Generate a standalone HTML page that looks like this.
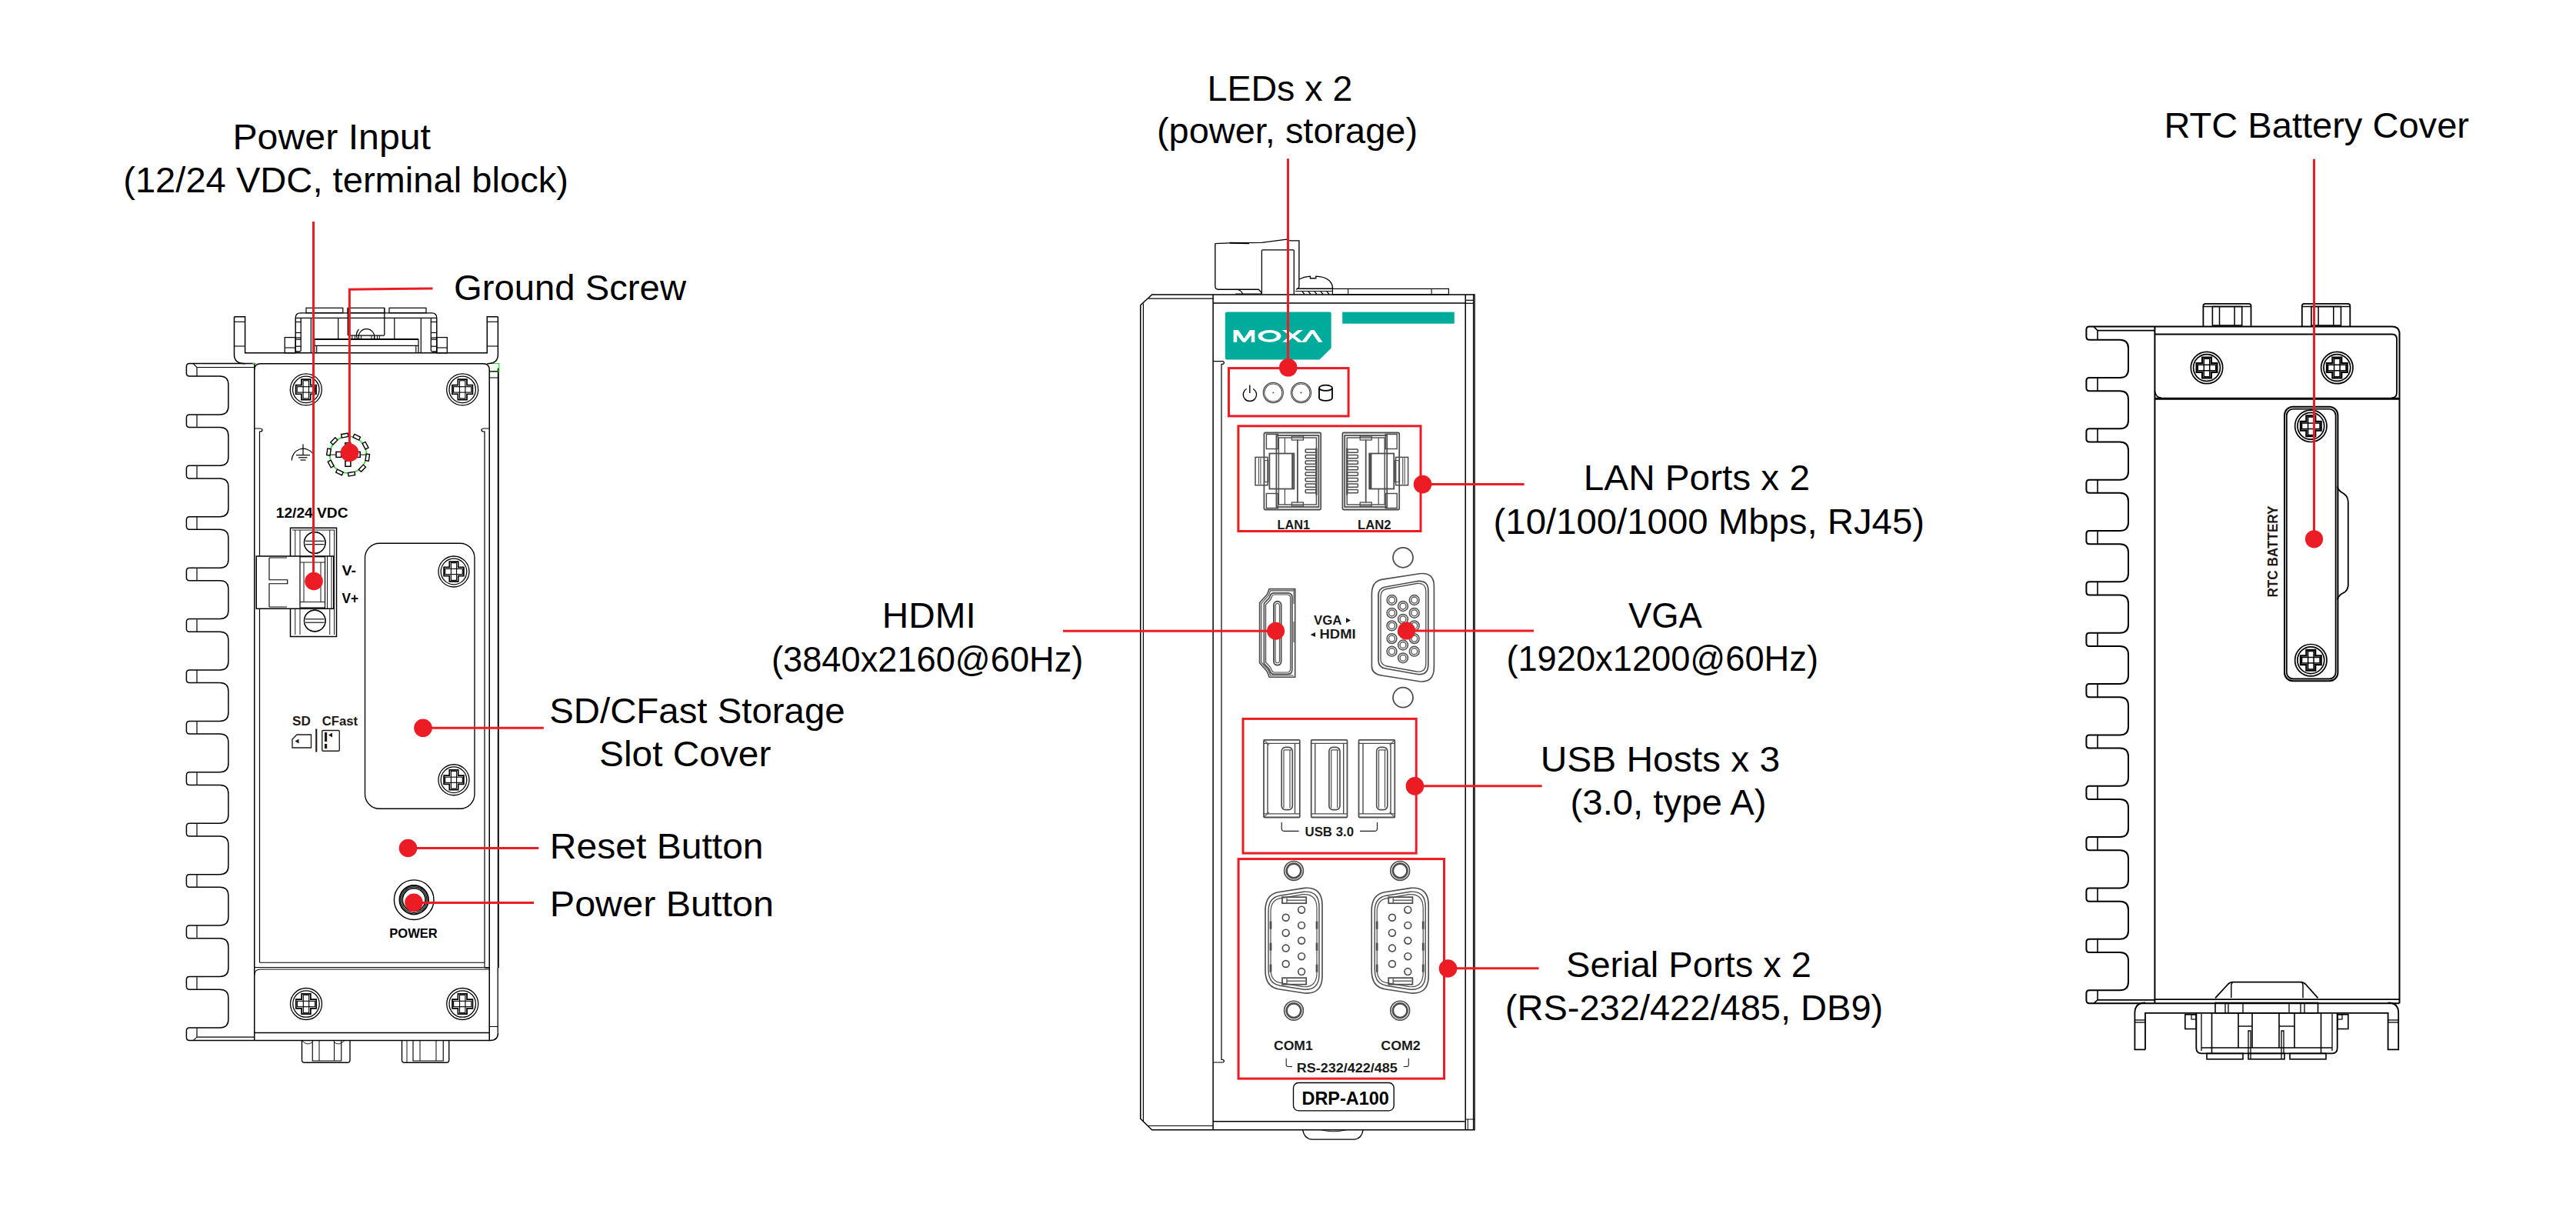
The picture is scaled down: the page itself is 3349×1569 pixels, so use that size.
<!DOCTYPE html>
<html><head><meta charset="utf-8"><title>DRP-A100</title>
<style>
html,body{margin:0;padding:0;background:#fff;overflow:hidden;width:3349px;height:1569px;}
svg{display:block;font-family:"Liberation Sans",sans-serif;}
</style></head><body>
<svg width="3349" height="1569" viewBox="0 0 3349 1569">
<rect width="100%" height="100%" fill="#fff"/>
<path d="M330.75,472.5 H246.4 Q242.4,472.5 242.4,476.5 V485.1 Q242.4,489.1 246.4,489.1 H285.9 Q296.9,489.1 296.9,500.1 V527.92 Q296.9,538.92 285.9,538.92 H246.4 Q242.4,538.92 242.4,542.92 V551.52 Q242.4,555.52 246.4,555.52 H285.9 Q296.9,555.52 296.9,566.52 V594.34 Q296.9,605.34 285.9,605.34 H246.4 Q242.4,605.34 242.4,609.34 V617.94 Q242.4,621.94 246.4,621.94 H285.9 Q296.9,621.94 296.9,632.94 V660.76 Q296.9,671.76 285.9,671.76 H246.4 Q242.4,671.76 242.4,675.76 V684.36 Q242.4,688.36 246.4,688.36 H285.9 Q296.9,688.36 296.9,699.36 V727.18 Q296.9,738.18 285.9,738.18 H246.4 Q242.4,738.18 242.4,742.18 V750.78 Q242.4,754.78 246.4,754.78 H285.9 Q296.9,754.78 296.9,765.78 V793.6 Q296.9,804.6 285.9,804.6 H246.4 Q242.4,804.6 242.4,808.6 V817.2 Q242.4,821.2 246.4,821.2 H285.9 Q296.9,821.2 296.9,832.2 V860.02 Q296.9,871.02 285.9,871.02 H246.4 Q242.4,871.02 242.4,875.02 V883.62 Q242.4,887.62 246.4,887.62 H285.9 Q296.9,887.62 296.9,898.62 V926.44 Q296.9,937.44 285.9,937.44 H246.4 Q242.4,937.44 242.4,941.44 V950.04 Q242.4,954.04 246.4,954.04 H285.9 Q296.9,954.04 296.9,965.04 V992.86 Q296.9,1003.86 285.9,1003.86 H246.4 Q242.4,1003.86 242.4,1007.86 V1016.46 Q242.4,1020.46 246.4,1020.46 H285.9 Q296.9,1020.46 296.9,1031.46 V1059.28 Q296.9,1070.28 285.9,1070.28 H246.4 Q242.4,1070.28 242.4,1074.28 V1082.88 Q242.4,1086.88 246.4,1086.88 H285.9 Q296.9,1086.88 296.9,1097.88 V1125.7 Q296.9,1136.7 285.9,1136.7 H246.4 Q242.4,1136.7 242.4,1140.7 V1149.3 Q242.4,1153.3 246.4,1153.3 H285.9 Q296.9,1153.3 296.9,1164.3 V1192.12 Q296.9,1203.12 285.9,1203.12 H246.4 Q242.4,1203.12 242.4,1207.12 V1215.72 Q242.4,1219.72 246.4,1219.72 H285.9 Q296.9,1219.72 296.9,1230.72 V1258.54 Q296.9,1269.54 285.9,1269.54 H246.4 Q242.4,1269.54 242.4,1273.54 V1282.14 Q242.4,1286.14 246.4,1286.14 H285.9 Q296.9,1286.14 296.9,1297.14 V1324.96 Q296.9,1335.96 285.9,1335.96 H246.4 Q242.4,1335.96 242.4,1339.96 V1348.56 Q242.4,1352.56 246.4,1352.56 H330.75" fill="none" stroke="#000" stroke-width="1.5" />
<line x1="256" y1="477.5" x2="256" y2="489.1" stroke="#000" stroke-width="1.2"/>
<line x1="251" y1="472.5" x2="256" y2="477.5" stroke="#000" stroke-width="1.12"/>
<line x1="256" y1="477.5" x2="330.75" y2="477.5" stroke="#000" stroke-width="1.2"/>
<line x1="256" y1="538.92" x2="256" y2="555.52" stroke="#000" stroke-width="1.2"/>
<line x1="256" y1="605.34" x2="256" y2="621.94" stroke="#000" stroke-width="1.2"/>
<line x1="256" y1="671.76" x2="256" y2="688.36" stroke="#000" stroke-width="1.2"/>
<line x1="256" y1="738.18" x2="256" y2="754.78" stroke="#000" stroke-width="1.2"/>
<line x1="256" y1="804.6" x2="256" y2="821.2" stroke="#000" stroke-width="1.2"/>
<line x1="256" y1="871.02" x2="256" y2="887.62" stroke="#000" stroke-width="1.2"/>
<line x1="256" y1="937.44" x2="256" y2="954.04" stroke="#000" stroke-width="1.2"/>
<line x1="256" y1="1003.86" x2="256" y2="1020.46" stroke="#000" stroke-width="1.2"/>
<line x1="256" y1="1070.28" x2="256" y2="1086.88" stroke="#000" stroke-width="1.2"/>
<line x1="256" y1="1136.7" x2="256" y2="1153.3" stroke="#000" stroke-width="1.2"/>
<line x1="256" y1="1203.12" x2="256" y2="1219.72" stroke="#000" stroke-width="1.2"/>
<line x1="256" y1="1269.54" x2="256" y2="1286.14" stroke="#000" stroke-width="1.2"/>
<line x1="256" y1="1335.96" x2="256" y2="1348.06" stroke="#000" stroke-width="1.2"/>
<line x1="251" y1="1352.56" x2="256" y2="1348.06" stroke="#000" stroke-width="1.12"/>
<line x1="256" y1="1348.06" x2="330.75" y2="1348.06" stroke="#000" stroke-width="1.2"/>
<path d="M330.75,1352.5 H637.5 Q647.5,1352.5 647.5,1342.5" fill="none" stroke="#000" stroke-width="1.5" />
<line x1="330.75" y1="472.7" x2="330.75" y2="1352.5" stroke="#000" stroke-width="1.5"/>
<path d="M330.75,480.7 Q330.75,472.7 338.75,472.7 H628.25 Q636.25,472.7 636.25,480.7 V1352.5" fill="none" stroke="#000" stroke-width="1.5" />
<path d="M330.75,557 H338 Q341,557 341,559 Q341,561 338,561 H337.5 V1251.25" fill="none" stroke="#000" stroke-width="1.2" />
<path d="M636.25,557 H629 Q626,557 626,559 Q626,561 629,561 H630 V1251.25" fill="none" stroke="#000" stroke-width="1.2" />
<line x1="647.8" y1="478.5" x2="647.8" y2="1258" stroke="#000" stroke-width="1.95"/>
<line x1="647.2" y1="1258" x2="647.2" y2="1342.5" stroke="#000" stroke-width="1.27"/>
<line x1="630" y1="1251.25" x2="630" y2="1258" stroke="#000" stroke-width="1.12"/>
<line x1="630" y1="1257.8" x2="636.25" y2="1257.8" stroke="#000" stroke-width="1.65"/>
<path d="M636.3,472.5 H648.8 V482.8 H637.5" fill="none" stroke="#22dd22" stroke-width="1.2"/>
<path d="M328.5,472.5 H333" fill="none" stroke="#22dd22" stroke-width="1.2"/>
<line x1="636.25" y1="482.8" x2="647.5" y2="482.8" stroke="#000" stroke-width="1.2"/>
<line x1="636.25" y1="491" x2="647.5" y2="491" stroke="#000" stroke-width="1.05"/>
<line x1="337.5" y1="1251.25" x2="630" y2="1251.25" stroke="#000" stroke-width="1.2"/>
<line x1="330.75" y1="1257.5" x2="636.25" y2="1257.5" stroke="#000" stroke-width="1.2"/>
<path d="M330.75,1268 Q330.75,1260 338.75,1260 H636.25" fill="none" stroke="#000" stroke-width="1.2" />
<line x1="330.75" y1="1342.5" x2="636.25" y2="1342.5" stroke="#000" stroke-width="1.35"/>
<line x1="636.25" y1="1334.5" x2="647.2" y2="1334.5" stroke="#000" stroke-width="1.05"/>
<path d="M304.5,411.8 V461 Q304.5,472.7 318.6,472.7" fill="none" stroke="#000" stroke-width="1.5" />
<path d="M647.4,411.8 V461 Q647.4,472.7 633.3,472.7" fill="none" stroke="#000" stroke-width="1.5" />
<path d="M304.5,411.8 H318.6 V458.8 H633.3 V411.8 H647.4" fill="none" stroke="#000" stroke-width="1.5" />
<line x1="304.5" y1="418.3" x2="318.6" y2="418.3" stroke="#000" stroke-width="1.12"/>
<line x1="304.5" y1="450" x2="318.6" y2="450" stroke="#000" stroke-width="1.12"/>
<line x1="633.3" y1="418.3" x2="647.4" y2="418.3" stroke="#000" stroke-width="1.12"/>
<line x1="633.3" y1="450" x2="647.4" y2="450" stroke="#000" stroke-width="1.12"/>
<rect x="398" y="400.3" width="47.8" height="6.4" rx="0" fill="none" stroke="#000" stroke-width="1.2"/>
<rect x="452.2" y="400.3" width="47.5" height="6.4" rx="0" fill="none" stroke="#000" stroke-width="1.2"/>
<rect x="506" y="400.3" width="48" height="6.4" rx="0" fill="none" stroke="#000" stroke-width="1.2"/>
<path d="M384.2,458.8 V413.4 Q384.2,406.9 390.7,406.9 H561.3 Q567.8,406.9 567.8,413.4 V458.8" fill="none" stroke="#000" stroke-width="1.42" />
<line x1="384.2" y1="413.4" x2="567.8" y2="413.4" stroke="#000" stroke-width="1.35"/>
<path d="M391.2,413.4 V455.5 Q391.2,457 389.5,457 H384.2" fill="none" stroke="#000" stroke-width="1.27" />
<path d="M560.3,413.4 V455.5 Q560.3,457 562,457 H567.8" fill="none" stroke="#000" stroke-width="1.27" />
<line x1="384.2" y1="418.5" x2="391.2" y2="418.5" stroke="#000" stroke-width="1.2"/>
<line x1="560.3" y1="418.5" x2="567.8" y2="418.5" stroke="#000" stroke-width="1.2"/>
<line x1="384.2" y1="432.5" x2="391.2" y2="432.5" stroke="#000" stroke-width="1.2"/>
<line x1="560.3" y1="432.5" x2="567.8" y2="432.5" stroke="#000" stroke-width="1.2"/>
<line x1="384.2" y1="439" x2="391.2" y2="439" stroke="#000" stroke-width="1.2"/>
<line x1="560.3" y1="439" x2="567.8" y2="439" stroke="#000" stroke-width="1.2"/>
<line x1="384.2" y1="441.2" x2="391.2" y2="441.2" stroke="#000" stroke-width="1.2"/>
<line x1="560.3" y1="441.2" x2="567.8" y2="441.2" stroke="#000" stroke-width="1.2"/>
<line x1="384.2" y1="450.2" x2="391.2" y2="450.2" stroke="#000" stroke-width="1.2"/>
<line x1="560.3" y1="450.2" x2="567.8" y2="450.2" stroke="#000" stroke-width="1.2"/>
<line x1="404.3" y1="413.4" x2="404.3" y2="458.8" stroke="#000" stroke-width="1.2"/>
<line x1="547.3" y1="413.4" x2="547.3" y2="458.8" stroke="#000" stroke-width="1.2"/>
<line x1="439.7" y1="413.4" x2="439.7" y2="441" stroke="#000" stroke-width="1.2"/>
<line x1="512.8" y1="413.4" x2="512.8" y2="441" stroke="#000" stroke-width="1.2"/>
<path d="M452.2,400.3 V435 Q452.2,436.2 453.5,436.2 H498.5 Q499.8,436.2 499.8,435 V400.3" fill="none" stroke="#000" stroke-width="1.27" />
<path d="M466.8,440.9 A10.2,10.2 0 1 1 486.2,440.9" fill="none" stroke="#000" stroke-width="1.2" />
<path d="M464.5,440.5 A12,12 0 0 1 466.5,428" fill="none" stroke="#000" stroke-width="1.2" />
<line x1="457.8" y1="436.2" x2="457.8" y2="440.9" stroke="#000" stroke-width="0.98"/>
<line x1="461.5" y1="436.2" x2="461.5" y2="440.9" stroke="#000" stroke-width="0.98"/>
<line x1="469.5" y1="436.2" x2="469.5" y2="440.9" stroke="#000" stroke-width="0.98"/>
<line x1="483" y1="436.2" x2="483" y2="440.9" stroke="#000" stroke-width="0.98"/>
<line x1="486.8" y1="436.2" x2="486.8" y2="440.9" stroke="#000" stroke-width="0.98"/>
<line x1="490.5" y1="436.2" x2="490.5" y2="440.9" stroke="#000" stroke-width="0.98"/>
<line x1="493.3" y1="436.2" x2="493.3" y2="440.9" stroke="#000" stroke-width="0.98"/>
<line x1="408.9" y1="440.9" x2="544" y2="440.9" stroke="#000" stroke-width="1.95"/>
<line x1="408.9" y1="449.3" x2="544" y2="449.3" stroke="#000" stroke-width="1.35"/>
<line x1="408.9" y1="440.9" x2="408.9" y2="458.8" stroke="#000" stroke-width="1.2"/>
<line x1="544" y1="440.9" x2="544" y2="458.8" stroke="#000" stroke-width="1.2"/>
<line x1="411.7" y1="449.3" x2="411.7" y2="458.8" stroke="#000" stroke-width="1.12"/>
<line x1="540.8" y1="449.3" x2="540.8" y2="458.8" stroke="#000" stroke-width="1.12"/>
<rect x="370.2" y="438.6" width="14" height="20.2" rx="0" fill="none" stroke="#000" stroke-width="1.27"/>
<line x1="370.2" y1="452" x2="384.2" y2="452" stroke="#000" stroke-width="1.12"/>
<rect x="567.8" y="438.6" width="13.5" height="20.2" rx="0" fill="none" stroke="#000" stroke-width="1.27"/>
<line x1="567.8" y1="452" x2="581.3" y2="452" stroke="#000" stroke-width="1.12"/>
<circle cx="397.8" cy="506.4" r="20.5" fill="none" stroke="#000" stroke-width="1.27"/>
<circle cx="397.8" cy="506.4" r="17.22" fill="none" stroke="#000" stroke-width="1.27"/>
<path d="M391.96,493.18 H403.64 V500.56 H411.02 V512.24 H403.64 V519.62 H391.96 V512.24 H384.58 V500.56 H391.96 Z" fill="none" stroke="#000" stroke-width="1.72" />
<rect x="394.11" y="494.78" width="7.38" height="23.24" rx="0" fill="none" stroke="#000" stroke-width="1.12"/>
<rect x="386.18" y="502.71" width="23.25" height="7.38" rx="0" fill="none" stroke="#000" stroke-width="1.12"/>
<circle cx="601.2" cy="506.4" r="20.5" fill="none" stroke="#000" stroke-width="1.27"/>
<circle cx="601.2" cy="506.4" r="17.22" fill="none" stroke="#000" stroke-width="1.27"/>
<path d="M595.36,493.18 H607.04 V500.56 H614.42 V512.24 H607.04 V519.62 H595.36 V512.24 H587.98 V500.56 H595.36 Z" fill="none" stroke="#000" stroke-width="1.72" />
<rect x="597.51" y="494.78" width="7.38" height="23.24" rx="0" fill="none" stroke="#000" stroke-width="1.12"/>
<rect x="589.58" y="502.71" width="23.24" height="7.38" rx="0" fill="none" stroke="#000" stroke-width="1.12"/>
<circle cx="398" cy="1305" r="20.5" fill="none" stroke="#000" stroke-width="1.27"/>
<circle cx="398" cy="1305" r="17.22" fill="none" stroke="#000" stroke-width="1.27"/>
<path d="M392.16,1291.78 H403.84 V1299.16 H411.22 V1310.84 H403.84 V1318.22 H392.16 V1310.84 H384.78 V1299.16 H392.16 Z" fill="none" stroke="#000" stroke-width="1.72" />
<rect x="394.31" y="1293.38" width="7.38" height="23.24" rx="0" fill="none" stroke="#000" stroke-width="1.12"/>
<rect x="386.38" y="1301.31" width="23.25" height="7.38" rx="0" fill="none" stroke="#000" stroke-width="1.12"/>
<circle cx="601.25" cy="1305" r="20.5" fill="none" stroke="#000" stroke-width="1.27"/>
<circle cx="601.25" cy="1305" r="17.22" fill="none" stroke="#000" stroke-width="1.27"/>
<path d="M595.41,1291.78 H607.09 V1299.16 H614.47 V1310.84 H607.09 V1318.22 H595.41 V1310.84 H588.03 V1299.16 H595.41 Z" fill="none" stroke="#000" stroke-width="1.72" />
<rect x="597.56" y="1293.38" width="7.38" height="23.24" rx="0" fill="none" stroke="#000" stroke-width="1.12"/>
<rect x="589.63" y="1301.31" width="23.24" height="7.38" rx="0" fill="none" stroke="#000" stroke-width="1.12"/>
<line x1="394" y1="577.4" x2="394" y2="591.5" stroke="#000" stroke-width="1.2"/>
<line x1="385" y1="591.6" x2="403" y2="591.6" stroke="#000" stroke-width="1.2"/>
<line x1="388" y1="594.8" x2="399.5" y2="594.8" stroke="#000" stroke-width="1.2"/>
<line x1="390.5" y1="598" x2="397.5" y2="598" stroke="#000" stroke-width="1.2"/>
<path d="M379.3,598.5 A15,15 0 0 1 406.5,589.5" fill="none" stroke="#000" stroke-width="1.2" />
<circle cx="452.6" cy="591.1" r="23.9" fill="none" stroke="#14e014" stroke-width="1.5"/>
<rect x="443.89" y="563.89" width="8.6" height="4.4" fill="#fff" stroke="#000" stroke-width="1.4" transform="rotate(-10 448.19 566.09)"/>
<rect x="459.43" y="566.07" width="8.6" height="4.4" fill="#fff" stroke="#000" stroke-width="1.4" transform="rotate(26 463.73 568.27)"/>
<rect x="470.73" y="576.98" width="8.6" height="4.4" fill="#fff" stroke="#000" stroke-width="1.4" transform="rotate(62 475.03 579.18)"/>
<rect x="473.45" y="592.43" width="8.6" height="4.4" fill="#fff" stroke="#000" stroke-width="1.4" transform="rotate(98 477.75 594.63)"/>
<rect x="466.57" y="606.54" width="8.6" height="4.4" fill="#fff" stroke="#000" stroke-width="1.4" transform="rotate(134 470.87 608.74)"/>
<rect x="452.71" y="613.91" width="8.6" height="4.4" fill="#fff" stroke="#000" stroke-width="1.4" transform="rotate(170 457.01 616.11)"/>
<rect x="437.17" y="611.73" width="8.6" height="4.4" fill="#fff" stroke="#000" stroke-width="1.4" transform="rotate(206 441.47 613.93)"/>
<rect x="425.87" y="600.82" width="8.6" height="4.4" fill="#fff" stroke="#000" stroke-width="1.4" transform="rotate(242 430.17 603.02)"/>
<rect x="423.15" y="585.37" width="8.6" height="4.4" fill="#fff" stroke="#000" stroke-width="1.4" transform="rotate(278 427.45 587.57)"/>
<rect x="430.03" y="571.26" width="8.6" height="4.4" fill="#fff" stroke="#000" stroke-width="1.4" transform="rotate(314 434.33 573.46)"/>
<line x1="429.1" y1="591.1" x2="476.1" y2="591.1" stroke="#000" stroke-width="0.98"/>
<rect x="437" y="587.4" width="6.6" height="7" fill="#fff" stroke="#000" stroke-width="1.5"/>
<rect x="461.6" y="587.4" width="6.6" height="7" fill="#fff" stroke="#000" stroke-width="1.5"/>
<rect x="448.9" y="599.1" width="7" height="7.2" fill="#fff" stroke="#000" stroke-width="1.5"/>
<rect x="448.9" y="575.8" width="7" height="7.2" fill="#fff" stroke="#000" stroke-width="1.5"/>
<text x="358.75" y="673" font-size="17.5" font-weight="bold" text-anchor="start" fill="#000" textLength="93.75" lengthAdjust="spacingAndGlyphs" >12/24 VDC</text>
<rect x="377.5" y="686.25" width="60" height="141.25" rx="0" fill="none" stroke="#000" stroke-width="1.5"/>
<line x1="383.75" y1="689" x2="383.75" y2="825" stroke="#000" stroke-width="0.9"/>
<line x1="390" y1="689" x2="390" y2="825" stroke="#000" stroke-width="0.9"/>
<line x1="428.75" y1="689" x2="428.75" y2="825" stroke="#000" stroke-width="0.9"/>
<line x1="434.5" y1="689" x2="434.5" y2="825" stroke="#000" stroke-width="0.9"/>
<line x1="380" y1="689" x2="435" y2="689" stroke="#000" stroke-width="0.9"/>
<circle cx="409.25" cy="705.5" r="13.75" fill="none" stroke="#000" stroke-width="1.35"/>
<circle cx="409.25" cy="705.5" r="13.75" fill="#fff" stroke="#000" stroke-width="0.0"/>
<circle cx="409.25" cy="705.5" r="13.75" fill="none" stroke="#000" stroke-width="1.35"/>
<line x1="397" y1="703.3" x2="421.5" y2="703.3" stroke="#000" stroke-width="1.12"/>
<line x1="397" y1="707.7" x2="421.5" y2="707.7" stroke="#000" stroke-width="1.12"/>
<circle cx="409.25" cy="807" r="13.75" fill="none" stroke="#000" stroke-width="1.35"/>
<circle cx="409.25" cy="807" r="13.75" fill="#fff" stroke="#000" stroke-width="0.0"/>
<circle cx="409.25" cy="807" r="13.75" fill="none" stroke="#000" stroke-width="1.35"/>
<line x1="397" y1="804.8" x2="421.5" y2="804.8" stroke="#000" stroke-width="1.12"/>
<line x1="397" y1="809.2" x2="421.5" y2="809.2" stroke="#000" stroke-width="1.12"/>
<rect x="333.25" y="723" width="100.5" height="68.25" fill="#fff" stroke="#000" stroke-width="1.5"/>
<path d="M350,725 V753.75 H373.75 V758.75 H350 V789" fill="none" stroke="#000" stroke-width="1.12" />
<line x1="350" y1="725" x2="373" y2="725" stroke="#000" stroke-width="0.98"/>
<line x1="350" y1="789" x2="373" y2="789" stroke="#000" stroke-width="0.98"/>
<rect x="390" y="723.75" width="32.5" height="66.25" rx="0" fill="none" stroke="#000" stroke-width="1.2"/>
<line x1="390" y1="731" x2="422.5" y2="731" stroke="#000" stroke-width="0.9"/>
<line x1="390" y1="782.5" x2="422.5" y2="782.5" stroke="#000" stroke-width="0.9"/>
<line x1="395" y1="731" x2="395" y2="782.5" stroke="#000" stroke-width="0.9"/>
<line x1="417" y1="731" x2="417" y2="782.5" stroke="#000" stroke-width="0.9"/>
<line x1="425.5" y1="723" x2="425.5" y2="791" stroke="#000" stroke-width="0.9"/>
<line x1="431" y1="723" x2="431" y2="791" stroke="#000" stroke-width="0.9"/>
<text x="444.5" y="747.5" font-size="17.5" font-weight="bold" text-anchor="start" fill="#000" textLength="18.5" lengthAdjust="spacingAndGlyphs" >V-</text>
<text x="444.5" y="783.75" font-size="17.5" font-weight="bold" text-anchor="start" fill="#000" textLength="21.5" lengthAdjust="spacingAndGlyphs" >V+</text>
<rect x="474.5" y="706.25" width="142.5" height="345" rx="19" fill="none" stroke="#000" stroke-width="1.35"/>
<circle cx="590" cy="743" r="20" fill="none" stroke="#000" stroke-width="1.27"/>
<circle cx="590" cy="743" r="16.8" fill="none" stroke="#000" stroke-width="1.27"/>
<path d="M584.3,730.1 H595.7 V737.3 H602.9 V748.7 H595.7 V755.9 H584.3 V748.7 H577.1 V737.3 H584.3 Z" fill="none" stroke="#000" stroke-width="1.72" />
<rect x="586.4" y="731.7" width="7.2" height="22.6" rx="0" fill="none" stroke="#000" stroke-width="1.12"/>
<rect x="578.7" y="739.4" width="22.6" height="7.2" rx="0" fill="none" stroke="#000" stroke-width="1.12"/>
<circle cx="590" cy="1013.75" r="20" fill="none" stroke="#000" stroke-width="1.27"/>
<circle cx="590" cy="1013.75" r="16.8" fill="none" stroke="#000" stroke-width="1.27"/>
<path d="M584.3,1000.85 H595.7 V1008.05 H602.9 V1019.45 H595.7 V1026.65 H584.3 V1019.45 H577.1 V1008.05 H584.3 Z" fill="none" stroke="#000" stroke-width="1.72" />
<rect x="586.4" y="1002.45" width="7.2" height="22.6" rx="0" fill="none" stroke="#000" stroke-width="1.12"/>
<rect x="578.7" y="1010.15" width="22.6" height="7.2" rx="0" fill="none" stroke="#000" stroke-width="1.12"/>
<text x="380" y="942.5" font-size="16" font-weight="bold" text-anchor="start" fill="#231815" textLength="23.75" lengthAdjust="spacingAndGlyphs" >SD</text>
<text x="418.75" y="942.5" font-size="16" font-weight="bold" text-anchor="start" fill="#231815" textLength="46.25" lengthAdjust="spacingAndGlyphs" >CFast</text>
<path d="M380,972 V961 L386,955 H404.5 V972 Z" fill="none" stroke="#231815" stroke-width="1.35" />
<path d="M383.5,963.5 L388.5,960.5 V966.5 Z" fill="#231815"/>
<line x1="411.25" y1="947.5" x2="411.25" y2="977.5" stroke="#231815" stroke-width="2.1"/>
<rect x="418.75" y="949.5" width="22.5" height="26.75" rx="1.5" fill="none" stroke="#231815" stroke-width="1.35"/>
<rect x="422" y="952" width="3.2" height="12" fill="#231815"/><rect x="422" y="967" width="3.2" height="6" fill="#231815"/>
<path d="M427,955.5 L432,952.5 V958.5 Z" fill="#231815"/>
<circle cx="538.2" cy="1169.7" r="25.8" fill="none" stroke="#000" stroke-width="1.42"/>
<circle cx="538.2" cy="1169.7" r="18.7" fill="none" stroke="#000" stroke-width="1.95"/>
<circle cx="538.2" cy="1169.7" r="16.8" fill="none" stroke="#000" stroke-width="1.2"/>
<circle cx="538.2" cy="1169.7" r="14.9" fill="none" stroke="#000" stroke-width="1.65"/>
<text x="506.25" y="1218.75" font-size="17" font-weight="bold" text-anchor="start" fill="#000" textLength="62.5" lengthAdjust="spacingAndGlyphs" >POWER</text>
<path d="M392.5,1352.5 V1378 Q392.5,1381.25 396,1381.25 H451.5 Q455,1381.25 455,1378 V1352.5" fill="none" stroke="#000" stroke-width="1.35" />
<path d="M406.25,1352.5 V1379 H443.75 V1352.5" fill="none" stroke="#000" stroke-width="1.12" />
<line x1="415" y1="1352.5" x2="415" y2="1379" stroke="#000" stroke-width="0.98"/>
<line x1="434.5" y1="1352.5" x2="434.5" y2="1379" stroke="#000" stroke-width="0.98"/>
<path d="M392.5,1352.5 Q399,1360 406,1355" fill="none" stroke="#000" stroke-width="0.9" />
<path d="M434.5,1355 Q441,1360 448,1352.5" fill="none" stroke="#000" stroke-width="0.9" />
<path d="M522.5,1352.5 V1378 Q522.5,1381.25 526,1381.25 H580 Q583.75,1381.25 583.75,1378 V1352.5" fill="none" stroke="#000" stroke-width="1.35" />
<path d="M537,1352.5 V1379 H576.25 V1352.5" fill="none" stroke="#000" stroke-width="1.12" />
<line x1="546" y1="1352.5" x2="546" y2="1379" stroke="#000" stroke-width="0.98"/>
<line x1="567" y1="1352.5" x2="567" y2="1379" stroke="#000" stroke-width="0.98"/>
<line x1="529" y1="1352.5" x2="529" y2="1381" stroke="#000" stroke-width="0.9"/>
<path d="M1497.6,382.9 H1917 V1468.8 H1497.6 L1482.7,1454.3 V396.8 Z" fill="none" stroke="#000" stroke-width="1.5" />
<path d="M1577.1,388.1 H1492.9" fill="none" stroke="#000" stroke-width="1.2" />
<path d="M1486.4,394.4 V1457.3" fill="none" stroke="#000" stroke-width="1.2" />
<path d="M1492.4,1463.5 H1577.3" fill="none" stroke="#000" stroke-width="1.2" />
<line x1="1577.1" y1="382.8" x2="1577.1" y2="1468.7" stroke="#000" stroke-width="1.5"/>
<line x1="1577.1" y1="394" x2="1905.3" y2="394" stroke="#000" stroke-width="1.5"/>
<line x1="1577.3" y1="1457.8" x2="1904.3" y2="1457.8" stroke="#000" stroke-width="1.5"/>
<line x1="1905.2" y1="383" x2="1905.2" y2="1468.7" stroke="#000" stroke-width="1.5"/>
<line x1="1908.3" y1="1455" x2="1908.3" y2="1468.7" stroke="#000" stroke-width="0.98"/>
<line x1="1905.2" y1="1455" x2="1917" y2="1455" stroke="#000" stroke-width="0.98"/>
<line x1="1905.2" y1="390.3" x2="1916" y2="390.3" stroke="#000" stroke-width="1.2"/>
<line x1="1905.2" y1="394.3" x2="1916" y2="394.3" stroke="#000" stroke-width="1.2"/>
<line x1="1915.4" y1="383" x2="1915.4" y2="1468.7" stroke="#000" stroke-width="1.05"/>
<path d="M1577.1,469.7 H1590 Q1593,471.5 1590,473.3 H1588 V1377.5 H1590 Q1593,1379.3 1590,1381 H1577.1" fill="none" stroke="#000" stroke-width="1.2" />
<path d="M1579.8,316.6 L1598.2,315.9 L1640.4,315.3 L1672.7,311.2 L1677.7,312.8 H1688.9 V372 Q1688.9,375.6 1685,376.2" fill="none" stroke="#000" stroke-width="1.35" />
<path d="M1579.8,316.6 V372 Q1579.8,376.2 1584,376.2 H1636.3 L1640.4,380.8" fill="none" stroke="#000" stroke-width="1.35" />
<line x1="1598.5" y1="315.8" x2="1624" y2="316.3" stroke="#000" stroke-width="1.95"/>
<path d="M1606.5,376.2 Q1614,376.5 1615.6,382.5" fill="none" stroke="#000" stroke-width="1.05" />
<line x1="1606" y1="382" x2="1640" y2="382" stroke="#000" stroke-width="1.2"/>
<path d="M1640.4,382.8 V325.8 Q1640.4,324.9 1641.5,324.9 H1681.2 Q1682.3,324.9 1682.3,325.8 V382.8" fill="none" stroke="#000" stroke-width="1.27" />
<path d="M1688.9,363 Q1695,360 1703.4,359.2 V361.7 H1710.8 V359.2 Q1730,360 1732.4,372.9 V375" fill="none" stroke="#000" stroke-width="1.35" />
<line x1="1686" y1="375.2" x2="1732.4" y2="375.2" stroke="#000" stroke-width="1.35"/>
<line x1="1684" y1="378.5" x2="1732.4" y2="378.5" stroke="#000" stroke-width="1.05"/>
<line x1="1693" y1="379" x2="1696" y2="382.5" stroke="#000" stroke-width="1.2"/>
<line x1="1701" y1="379" x2="1704" y2="382.5" stroke="#000" stroke-width="1.2"/>
<line x1="1709" y1="379" x2="1712" y2="382.5" stroke="#000" stroke-width="1.2"/>
<line x1="1717" y1="379" x2="1720" y2="382.5" stroke="#000" stroke-width="1.2"/>
<line x1="1725" y1="379" x2="1728" y2="382.5" stroke="#000" stroke-width="1.2"/>
<rect x="1732.4" y="375.4" width="151" height="7.5" rx="0" fill="none" stroke="#000" stroke-width="1.2"/>
<line x1="1752.7" y1="375.4" x2="1752.7" y2="382.9" stroke="#000" stroke-width="1.05"/>
<line x1="1861.1" y1="375.4" x2="1861.1" y2="382.9" stroke="#000" stroke-width="1.05"/>
<path d="M1595,405.6 H1728.7 Q1730.7,405.6 1730.7,407.6 V452.5 L1715.5,467.6 H1595 Q1592.8,467.6 1592.8,465.6 V407.6 Q1592.8,405.6 1595,405.6 Z" fill="#00ab9c"/>
<rect x="1745.2" y="405.6" width="145.6" height="15.1" fill="#00ab9c"/>
<path d="M1603.6,444.8 V428.9 H1610 L1617.5,440 L1625,428.9 H1631.3 V444.8 H1626.8 V435.5 L1619.3,444.8 H1615.7 L1608.2,435.5 V444.8 Z" fill="#fff"/>
<ellipse cx="1650.5" cy="436.85" rx="15" ry="7.95" fill="#fff"/><ellipse cx="1650.5" cy="436.85" rx="9.3" ry="4.3" fill="#00ab9c"/>
<path d="M1667,428.9 H1673.5 L1680.5,434.6 L1687.5,428.9 H1694 L1684,436.85 L1694,444.8 H1687.5 L1680.5,439.1 L1673.5,444.8 H1667 L1677,436.85 Z" fill="#fff"/>
<path d="M1692,444.8 L1704,428.9 H1708.5 L1719.5,444.8 H1714 L1706.2,433.5 L1698,444.8 Z" fill="#fff"/>
<path d="M1620.6,505.5 A8.6,8.6 0 1 0 1629.2,505.5" fill="none" stroke="#000" stroke-width="1.35" />
<line x1="1624.8" y1="500.5" x2="1624.8" y2="511" stroke="#000" stroke-width="1.35"/>
<circle cx="1655.3" cy="510.5" r="13.1" fill="none" stroke="#444" stroke-width="1.1"/>
<circle cx="1655.3" cy="510.5" r="11.5" fill="none" stroke="#444" stroke-width="1.1"/>
<circle cx="1655.3" cy="510.5" r="0.7" fill="none" stroke="#444" stroke-width="0.88"/>
<circle cx="1691.5" cy="510.5" r="13.1" fill="none" stroke="#444" stroke-width="1.1"/>
<circle cx="1691.5" cy="510.5" r="11.5" fill="none" stroke="#444" stroke-width="1.1"/>
<circle cx="1691.5" cy="510.5" r="0.7" fill="none" stroke="#444" stroke-width="0.88"/>
<path d="M1715,504.5 V517.5 A8.5,3.4 0 0 0 1732,517.5 V504.5" fill="none" stroke="#000" stroke-width="1.8"/>
<ellipse cx="1723.5" cy="504.3" rx="8.5" ry="3.6" fill="none" stroke="#000" stroke-width="1.8"/>
<g transform="translate(1643.4,562.5)">
<rect x="0" y="0" width="73.8" height="100" rx="1.5" fill="none" stroke="#4d4d4d" stroke-width="1.76"/>
<rect x="3" y="2" width="15" height="19" rx="0" fill="none" stroke="#4d4d4d" stroke-width="1.43"/>
<rect x="3" y="79" width="15" height="19" rx="0" fill="none" stroke="#4d4d4d" stroke-width="1.43"/>
<rect x="16" y="3.5" width="55" height="93" rx="0" fill="none" stroke="#4d4d4d" stroke-width="1.76"/>
<rect x="19" y="6.5" width="49" height="87" rx="0" fill="none" stroke="#4d4d4d" stroke-width="1.43"/>
<rect x="-11.4" y="31.9" width="16" height="36.3" rx="0" fill="none" stroke="#4d4d4d" stroke-width="1.54"/>
<line x1="-7" y1="33" x2="-7" y2="67" stroke="#4d4d4d" stroke-width="1.1"/>
<line x1="-4.5" y1="33" x2="-4.5" y2="67" stroke="#4d4d4d" stroke-width="1.1"/>
<rect x="0.5" y="36" width="5" height="28" rx="0" fill="none" stroke="#4d4d4d" stroke-width="1.1"/>
<rect x="7" y="27" width="32" height="46" rx="0" fill="none" stroke="#4d4d4d" stroke-width="1.76"/>
<line x1="37" y1="27" x2="37" y2="73" stroke="#4d4d4d" stroke-width="2.42"/>
<line x1="43.5" y1="9" x2="43.5" y2="91" stroke="#4d4d4d" stroke-width="1.76"/>
<rect x="36" y="4.5" width="15" height="5" rx="0" fill="none" stroke="#4d4d4d" stroke-width="1.32"/>
<rect x="36" y="90.5" width="15" height="5" rx="0" fill="none" stroke="#4d4d4d" stroke-width="1.32"/>
<line x1="27" y1="6.5" x2="27" y2="27" stroke="#4d4d4d" stroke-width="1.21"/>
<line x1="27" y1="73" x2="27" y2="93.5" stroke="#4d4d4d" stroke-width="1.21"/>
<rect x="53.8" y="21.5" width="13.6" height="4.2" rx="1" fill="none" stroke="#4d4d4d" stroke-width="1.54"/>
<rect x="53.8" y="29" width="13.6" height="4.2" rx="1" fill="none" stroke="#4d4d4d" stroke-width="1.54"/>
<rect x="53.8" y="36.5" width="13.6" height="4.2" rx="1" fill="none" stroke="#4d4d4d" stroke-width="1.54"/>
<rect x="53.8" y="44" width="13.6" height="4.2" rx="1" fill="none" stroke="#4d4d4d" stroke-width="1.54"/>
<rect x="53.8" y="51.5" width="13.6" height="4.2" rx="1" fill="none" stroke="#4d4d4d" stroke-width="1.54"/>
<rect x="53.8" y="59" width="13.6" height="4.2" rx="1" fill="none" stroke="#4d4d4d" stroke-width="1.54"/>
<rect x="53.8" y="66.5" width="13.6" height="4.2" rx="1" fill="none" stroke="#4d4d4d" stroke-width="1.54"/>
<rect x="53.8" y="74" width="13.6" height="4.2" rx="1" fill="none" stroke="#4d4d4d" stroke-width="1.54"/>
<line x1="68" y1="20" x2="68" y2="81" stroke="#4d4d4d" stroke-width="2.2"/>
</g>
<g transform="translate(1745.4,562.5) translate(73.8,0) scale(-1,1)">
<rect x="0" y="0" width="73.8" height="100" rx="1.5" fill="none" stroke="#4d4d4d" stroke-width="1.76"/>
<rect x="3" y="2" width="15" height="19" rx="0" fill="none" stroke="#4d4d4d" stroke-width="1.43"/>
<rect x="3" y="79" width="15" height="19" rx="0" fill="none" stroke="#4d4d4d" stroke-width="1.43"/>
<rect x="16" y="3.5" width="55" height="93" rx="0" fill="none" stroke="#4d4d4d" stroke-width="1.76"/>
<rect x="19" y="6.5" width="49" height="87" rx="0" fill="none" stroke="#4d4d4d" stroke-width="1.43"/>
<rect x="-11.4" y="31.9" width="16" height="36.3" rx="0" fill="none" stroke="#4d4d4d" stroke-width="1.54"/>
<line x1="-7" y1="33" x2="-7" y2="67" stroke="#4d4d4d" stroke-width="1.1"/>
<line x1="-4.5" y1="33" x2="-4.5" y2="67" stroke="#4d4d4d" stroke-width="1.1"/>
<rect x="0.5" y="36" width="5" height="28" rx="0" fill="none" stroke="#4d4d4d" stroke-width="1.1"/>
<rect x="7" y="27" width="32" height="46" rx="0" fill="none" stroke="#4d4d4d" stroke-width="1.76"/>
<line x1="37" y1="27" x2="37" y2="73" stroke="#4d4d4d" stroke-width="2.42"/>
<line x1="43.5" y1="9" x2="43.5" y2="91" stroke="#4d4d4d" stroke-width="1.76"/>
<rect x="36" y="4.5" width="15" height="5" rx="0" fill="none" stroke="#4d4d4d" stroke-width="1.32"/>
<rect x="36" y="90.5" width="15" height="5" rx="0" fill="none" stroke="#4d4d4d" stroke-width="1.32"/>
<line x1="27" y1="6.5" x2="27" y2="27" stroke="#4d4d4d" stroke-width="1.21"/>
<line x1="27" y1="73" x2="27" y2="93.5" stroke="#4d4d4d" stroke-width="1.21"/>
<rect x="53.8" y="21.5" width="13.6" height="4.2" rx="1" fill="none" stroke="#4d4d4d" stroke-width="1.54"/>
<rect x="53.8" y="29" width="13.6" height="4.2" rx="1" fill="none" stroke="#4d4d4d" stroke-width="1.54"/>
<rect x="53.8" y="36.5" width="13.6" height="4.2" rx="1" fill="none" stroke="#4d4d4d" stroke-width="1.54"/>
<rect x="53.8" y="44" width="13.6" height="4.2" rx="1" fill="none" stroke="#4d4d4d" stroke-width="1.54"/>
<rect x="53.8" y="51.5" width="13.6" height="4.2" rx="1" fill="none" stroke="#4d4d4d" stroke-width="1.54"/>
<rect x="53.8" y="59" width="13.6" height="4.2" rx="1" fill="none" stroke="#4d4d4d" stroke-width="1.54"/>
<rect x="53.8" y="66.5" width="13.6" height="4.2" rx="1" fill="none" stroke="#4d4d4d" stroke-width="1.54"/>
<rect x="53.8" y="74" width="13.6" height="4.2" rx="1" fill="none" stroke="#4d4d4d" stroke-width="1.54"/>
<line x1="68" y1="20" x2="68" y2="81" stroke="#4d4d4d" stroke-width="2.2"/>
</g>
<text x="1660.5" y="687.9" font-size="16" font-weight="bold" text-anchor="start" fill="#1a1a1a" textLength="42.5" lengthAdjust="spacingAndGlyphs" >LAN1</text>
<text x="1765" y="687.9" font-size="16" font-weight="bold" text-anchor="start" fill="#1a1a1a" textLength="43.5" lengthAdjust="spacingAndGlyphs" >LAN2</text>
<path d="M1650.1,765.6 H1683.7 V880.2 H1650.1 L1647.5,873 L1637.6,861.8 V783.5 L1647.5,772.5 Z" fill="none" stroke="#4d4d4d" stroke-width="1.65" />
<path d="M1681.6,767.8 H1651.6 L1649.4,773.8 L1639.8,784.4 V860.9 L1649.4,871.6 L1651.6,878 H1681.6" fill="none" stroke="#4d4d4d" stroke-width="1.21" />
<path d="M1656,770.8 H1674 Q1679.8,770.8 1679.8,776.5 V870.5 Q1679.8,876.3 1674,876.3 H1656 Q1652.5,876.3 1651.5,873 Q1650.5,869.5 1647.5,867 L1643.4,862.5 V784.5 L1647.5,780 Q1650.5,777.5 1651.5,774 Q1652.5,770.8 1656,770.8 Z" fill="none" stroke="#4d4d4d" stroke-width="1.76" />
<path d="M1656.5,773 H1673.5 Q1677.6,773 1677.6,777.5 V869.5 Q1677.6,874 1673.5,874 H1656.5 Q1654.5,874 1653.5,871.5 Q1652.5,867.5 1649,864.5 L1645.6,861 V786 L1649,782.5 Q1652.5,779.5 1653.5,775.5 Q1654.5,773 1656.5,773 Z" fill="none" stroke="#4d4d4d" stroke-width="1.21" />
<rect x="1656" y="781.8" width="9.6" height="82.8" rx="4.5" fill="none" stroke="#4d4d4d" stroke-width="1.87"/>
<rect x="1658.2" y="784.5" width="5.2" height="77.3" rx="2.5" fill="none" stroke="#4d4d4d" stroke-width="1.1"/>
<line x1="1682" y1="766" x2="1682" y2="785" stroke="#4d4d4d" stroke-width="1.1"/>
<line x1="1682" y1="808" x2="1682" y2="835" stroke="#4d4d4d" stroke-width="1.1"/>
<text x="1708" y="812" font-size="16" font-weight="bold" text-anchor="start" fill="#1a1a1a" textLength="36.5" lengthAdjust="spacingAndGlyphs" >VGA</text>
<text x="1715.6" y="829.6" font-size="16" font-weight="bold" text-anchor="start" fill="#1a1a1a" textLength="47" lengthAdjust="spacingAndGlyphs" >HDMI</text>
<path d="M1750,803 L1756,806.4 L1750,809.8 Z" fill="#1a1a1a"/>
<path d="M1710,822 L1703.5,825 L1710,828 Z" fill="#1a1a1a"/>
<circle cx="1824" cy="724.8" r="13" fill="none" stroke="#4d4d4d" stroke-width="1.76"/>
<circle cx="1824" cy="906.7" r="13" fill="none" stroke="#4d4d4d" stroke-width="1.76"/>
<path d="M1783.4,866 V772 Q1783.4,756 1796,753.4 L1845.3,745.7 Q1864.4,743.5 1864.4,762 V867 Q1864.4,888 1845.3,885.8 L1796,878 Q1783.4,876 1783.4,866 Z" fill="none" stroke="#4d4d4d" stroke-width="1.65" />
<path d="M1792,858 V774 Q1792,764.5 1801,763 L1843,755.5 Q1856.8,754.5 1856.8,767 V864 Q1856.8,878 1843,876.5 L1801,869 Q1792,867.5 1792,858 Z" fill="none" stroke="#4d4d4d" stroke-width="1.76" />
<path d="M1795,856.5 V775.5 Q1795,767 1803,765.5 L1842,758.5 Q1853.8,757.5 1853.8,769 V862 Q1853.8,874.5 1842,873 L1803,866 Q1795,864.5 1795,856.5 Z" fill="none" stroke="#4d4d4d" stroke-width="1.32" />
<circle cx="1809.5" cy="780" r="6.4" fill="none" stroke="#4d4d4d" stroke-width="1.54"/>
<circle cx="1809.5" cy="780" r="4" fill="none" stroke="#4d4d4d" stroke-width="1.32"/>
<circle cx="1838.7" cy="780" r="6.4" fill="none" stroke="#4d4d4d" stroke-width="1.54"/>
<circle cx="1838.7" cy="780" r="4" fill="none" stroke="#4d4d4d" stroke-width="1.32"/>
<circle cx="1809.5" cy="796.8" r="6.4" fill="none" stroke="#4d4d4d" stroke-width="1.54"/>
<circle cx="1809.5" cy="796.8" r="4" fill="none" stroke="#4d4d4d" stroke-width="1.32"/>
<circle cx="1838.7" cy="796.8" r="6.4" fill="none" stroke="#4d4d4d" stroke-width="1.54"/>
<circle cx="1838.7" cy="796.8" r="4" fill="none" stroke="#4d4d4d" stroke-width="1.32"/>
<circle cx="1809.5" cy="813.4" r="6.4" fill="none" stroke="#4d4d4d" stroke-width="1.54"/>
<circle cx="1809.5" cy="813.4" r="4" fill="none" stroke="#4d4d4d" stroke-width="1.32"/>
<circle cx="1838.7" cy="813.4" r="6.4" fill="none" stroke="#4d4d4d" stroke-width="1.54"/>
<circle cx="1838.7" cy="813.4" r="4" fill="none" stroke="#4d4d4d" stroke-width="1.32"/>
<circle cx="1809.5" cy="830.1" r="6.4" fill="none" stroke="#4d4d4d" stroke-width="1.54"/>
<circle cx="1809.5" cy="830.1" r="4" fill="none" stroke="#4d4d4d" stroke-width="1.32"/>
<circle cx="1838.7" cy="830.1" r="6.4" fill="none" stroke="#4d4d4d" stroke-width="1.54"/>
<circle cx="1838.7" cy="830.1" r="4" fill="none" stroke="#4d4d4d" stroke-width="1.32"/>
<circle cx="1809.5" cy="846.7" r="6.4" fill="none" stroke="#4d4d4d" stroke-width="1.54"/>
<circle cx="1809.5" cy="846.7" r="4" fill="none" stroke="#4d4d4d" stroke-width="1.32"/>
<circle cx="1838.7" cy="846.7" r="6.4" fill="none" stroke="#4d4d4d" stroke-width="1.54"/>
<circle cx="1838.7" cy="846.7" r="4" fill="none" stroke="#4d4d4d" stroke-width="1.32"/>
<circle cx="1824" cy="788" r="6.4" fill="none" stroke="#4d4d4d" stroke-width="1.54"/>
<circle cx="1824" cy="788" r="4" fill="none" stroke="#4d4d4d" stroke-width="1.32"/>
<circle cx="1824" cy="804.8" r="6.4" fill="none" stroke="#4d4d4d" stroke-width="1.54"/>
<circle cx="1824" cy="804.8" r="4" fill="none" stroke="#4d4d4d" stroke-width="1.32"/>
<circle cx="1824" cy="821.6" r="6.4" fill="none" stroke="#4d4d4d" stroke-width="1.54"/>
<circle cx="1824" cy="821.6" r="4" fill="none" stroke="#4d4d4d" stroke-width="1.32"/>
<circle cx="1824" cy="838.5" r="6.4" fill="none" stroke="#4d4d4d" stroke-width="1.54"/>
<circle cx="1824" cy="838.5" r="4" fill="none" stroke="#4d4d4d" stroke-width="1.32"/>
<circle cx="1824" cy="855.3" r="6.4" fill="none" stroke="#4d4d4d" stroke-width="1.54"/>
<circle cx="1824" cy="855.3" r="4" fill="none" stroke="#4d4d4d" stroke-width="1.32"/>
<g transform="translate(1643,961.9)">
<rect x="0" y="0" width="46.8" height="100.6" rx="1" fill="none" stroke="#4d4d4d" stroke-width="1.76"/>
<line x1="0" y1="4.5" x2="46.8" y2="4.5" stroke="#4d4d4d" stroke-width="1.43"/>
<line x1="0" y1="96" x2="46.8" y2="96" stroke="#4d4d4d" stroke-width="1.43"/>
<line x1="5" y1="4.5" x2="5" y2="96" stroke="#4d4d4d" stroke-width="1.43"/>
<line x1="40.5" y1="4.5" x2="40.5" y2="96" stroke="#4d4d4d" stroke-width="1.43"/>
<line x1="0.5" y1="0.5" x2="7" y2="6.5" stroke="#4d4d4d" stroke-width="1.1"/>
<line x1="0.5" y1="100" x2="7" y2="94" stroke="#4d4d4d" stroke-width="1.1"/>
<rect x="23.2" y="9.5" width="14.1" height="81.2" rx="5" fill="none" stroke="#4d4d4d" stroke-width="1.65"/>
<line x1="26" y1="13" x2="26" y2="88" stroke="#4d4d4d" stroke-width="1.21"/>
<line x1="34" y1="13" x2="34" y2="88" stroke="#4d4d4d" stroke-width="1.21"/>
<line x1="26" y1="13" x2="36" y2="13" stroke="#4d4d4d" stroke-width="1.21"/>
</g>
<g transform="translate(1704.7,961.9)">
<rect x="0" y="0" width="46.8" height="100.6" rx="1" fill="none" stroke="#4d4d4d" stroke-width="1.76"/>
<line x1="0" y1="4.5" x2="46.8" y2="4.5" stroke="#4d4d4d" stroke-width="1.43"/>
<line x1="0" y1="96" x2="46.8" y2="96" stroke="#4d4d4d" stroke-width="1.43"/>
<line x1="5" y1="4.5" x2="5" y2="96" stroke="#4d4d4d" stroke-width="1.43"/>
<line x1="42" y1="4.5" x2="42" y2="96" stroke="#4d4d4d" stroke-width="1.43"/>
<rect x="23.2" y="9.5" width="14.1" height="81.2" rx="5" fill="none" stroke="#4d4d4d" stroke-width="1.65"/>
<line x1="26" y1="13" x2="26" y2="88" stroke="#4d4d4d" stroke-width="1.21"/>
<line x1="34" y1="13" x2="34" y2="88" stroke="#4d4d4d" stroke-width="1.21"/>
<line x1="26" y1="13" x2="36" y2="13" stroke="#4d4d4d" stroke-width="1.21"/>
</g>
<g transform="translate(1766.5,961.9)">
<rect x="0" y="0" width="46.8" height="100.6" rx="1" fill="none" stroke="#4d4d4d" stroke-width="1.76"/>
<line x1="0" y1="4.5" x2="46.8" y2="4.5" stroke="#4d4d4d" stroke-width="1.43"/>
<line x1="0" y1="96" x2="46.8" y2="96" stroke="#4d4d4d" stroke-width="1.43"/>
<line x1="5.5" y1="4.5" x2="5.5" y2="96" stroke="#4d4d4d" stroke-width="1.43"/>
<line x1="41.5" y1="4.5" x2="41.5" y2="96" stroke="#4d4d4d" stroke-width="1.43"/>
<line x1="46.3" y1="0.5" x2="40" y2="6.5" stroke="#4d4d4d" stroke-width="1.1"/>
<line x1="46.3" y1="100" x2="40" y2="94" stroke="#4d4d4d" stroke-width="1.1"/>
<rect x="23.2" y="9.5" width="14.1" height="81.2" rx="5" fill="none" stroke="#4d4d4d" stroke-width="1.65"/>
<line x1="26" y1="13" x2="26" y2="88" stroke="#4d4d4d" stroke-width="1.21"/>
<line x1="34" y1="13" x2="34" y2="88" stroke="#4d4d4d" stroke-width="1.21"/>
<line x1="26" y1="13" x2="36" y2="13" stroke="#4d4d4d" stroke-width="1.21"/>
</g>
<path d="M1666.2,1069 V1077 Q1666.2,1080.4 1670,1080.4 H1688.6" fill="none" stroke="#1a1a1a" stroke-width="1.12" />
<path d="M1768,1080.4 H1786.7 Q1790.5,1080.4 1790.5,1077 V1069" fill="none" stroke="#1a1a1a" stroke-width="1.12" />
<text x="1696.5" y="1086.5" font-size="17" font-weight="bold" text-anchor="start" fill="#1a1a1a" textLength="63.5" lengthAdjust="spacingAndGlyphs" >USB 3.0</text>
<g transform="translate(1682,1222.7)">
<path d="M-37,-39 Q-37,-60 -20,-63 L14,-68.3 Q37,-70 37,-46 V46 Q37,70 14,68.3 L-20,63 Q-37,60 -37,39 Z" fill="none" stroke="#4d4d4d" stroke-width="1.65" />
<path d="M-33,-38 Q-33,-56 -18,-58.5 L13,-63.5 Q33,-65 33,-44 V44 Q33,65 13,63.5 L-18,58.5 Q-33,56 -33,38 Z" fill="none" stroke="#4d4d4d" stroke-width="1.43" />
<path d="M-30,-37 Q-30,-53 -17,-55 L12,-60 Q30,-61 30,-42 V42 Q30,61 12,60 L-17,55 Q-30,53 -30,37 Z" fill="none" stroke="#4d4d4d" stroke-width="1.21" />
<line x1="-30" y1="-25" x2="-30" y2="-15" stroke="#4d4d4d" stroke-width="2.75"/>
<line x1="30" y1="-25" x2="30" y2="-15" stroke="#4d4d4d" stroke-width="2.75"/>
<line x1="-30" y1="3" x2="-30" y2="13" stroke="#4d4d4d" stroke-width="2.75"/>
<line x1="30" y1="3" x2="30" y2="13" stroke="#4d4d4d" stroke-width="2.75"/>
<line x1="-30" y1="31" x2="-30" y2="41" stroke="#4d4d4d" stroke-width="2.75"/>
<line x1="30" y1="31" x2="30" y2="41" stroke="#4d4d4d" stroke-width="2.75"/>
<rect x="-15" y="-56.5" width="31.2" height="8" rx="0" fill="none" stroke="#4d4d4d" stroke-width="1.76"/>
<line x1="-9" y1="-55.5" x2="-9" y2="-49.5" stroke="#4d4d4d" stroke-width="1.32"/>
<line x1="-9" y1="-52.5" x2="15" y2="-52.5" stroke="#4d4d4d" stroke-width="1.32"/>
<rect x="-15" y="48.5" width="31.2" height="8.5" rx="0" fill="none" stroke="#4d4d4d" stroke-width="1.76"/>
<line x1="-9" y1="49.5" x2="-9" y2="56" stroke="#4d4d4d" stroke-width="1.32"/>
<line x1="-9" y1="52.5" x2="15" y2="52.5" stroke="#4d4d4d" stroke-width="1.32"/>
<circle cx="-10.3" cy="-29.9" r="4.4" fill="none" stroke="#4d4d4d" stroke-width="1.65"/>
<circle cx="-10.3" cy="-10" r="4.4" fill="none" stroke="#4d4d4d" stroke-width="1.65"/>
<circle cx="-10.3" cy="9.9" r="4.4" fill="none" stroke="#4d4d4d" stroke-width="1.65"/>
<circle cx="-10.3" cy="30.3" r="4.4" fill="none" stroke="#4d4d4d" stroke-width="1.65"/>
<circle cx="10.1" cy="-40" r="4.4" fill="none" stroke="#4d4d4d" stroke-width="1.65"/>
<circle cx="10.1" cy="-19.8" r="4.4" fill="none" stroke="#4d4d4d" stroke-width="1.65"/>
<circle cx="10.1" cy="0.1" r="4.4" fill="none" stroke="#4d4d4d" stroke-width="1.65"/>
<circle cx="10.1" cy="20.5" r="4.4" fill="none" stroke="#4d4d4d" stroke-width="1.65"/>
<circle cx="10.1" cy="40.4" r="4.4" fill="none" stroke="#4d4d4d" stroke-width="1.65"/>
</g>
<circle cx="1682" cy="1131.9" r="12.4" fill="none" stroke="#4d4d4d" stroke-width="1.65"/>
<circle cx="1682" cy="1131.9" r="9.3" fill="none" stroke="#4d4d4d" stroke-width="2.64"/>
<circle cx="1682" cy="1313.7" r="12.4" fill="none" stroke="#4d4d4d" stroke-width="1.65"/>
<circle cx="1682" cy="1313.7" r="9.3" fill="none" stroke="#4d4d4d" stroke-width="2.64"/>
<g transform="translate(1820.2,1222.7)">
<path d="M-37,-39 Q-37,-60 -20,-63 L14,-68.3 Q37,-70 37,-46 V46 Q37,70 14,68.3 L-20,63 Q-37,60 -37,39 Z" fill="none" stroke="#4d4d4d" stroke-width="1.65" />
<path d="M-33,-38 Q-33,-56 -18,-58.5 L13,-63.5 Q33,-65 33,-44 V44 Q33,65 13,63.5 L-18,58.5 Q-33,56 -33,38 Z" fill="none" stroke="#4d4d4d" stroke-width="1.43" />
<path d="M-30,-37 Q-30,-53 -17,-55 L12,-60 Q30,-61 30,-42 V42 Q30,61 12,60 L-17,55 Q-30,53 -30,37 Z" fill="none" stroke="#4d4d4d" stroke-width="1.21" />
<line x1="-30" y1="-25" x2="-30" y2="-15" stroke="#4d4d4d" stroke-width="2.75"/>
<line x1="30" y1="-25" x2="30" y2="-15" stroke="#4d4d4d" stroke-width="2.75"/>
<line x1="-30" y1="3" x2="-30" y2="13" stroke="#4d4d4d" stroke-width="2.75"/>
<line x1="30" y1="3" x2="30" y2="13" stroke="#4d4d4d" stroke-width="2.75"/>
<line x1="-30" y1="31" x2="-30" y2="41" stroke="#4d4d4d" stroke-width="2.75"/>
<line x1="30" y1="31" x2="30" y2="41" stroke="#4d4d4d" stroke-width="2.75"/>
<rect x="-15" y="-56.5" width="31.2" height="8" rx="0" fill="none" stroke="#4d4d4d" stroke-width="1.76"/>
<line x1="-9" y1="-55.5" x2="-9" y2="-49.5" stroke="#4d4d4d" stroke-width="1.32"/>
<line x1="-9" y1="-52.5" x2="15" y2="-52.5" stroke="#4d4d4d" stroke-width="1.32"/>
<rect x="-15" y="48.5" width="31.2" height="8.5" rx="0" fill="none" stroke="#4d4d4d" stroke-width="1.76"/>
<line x1="-9" y1="49.5" x2="-9" y2="56" stroke="#4d4d4d" stroke-width="1.32"/>
<line x1="-9" y1="52.5" x2="15" y2="52.5" stroke="#4d4d4d" stroke-width="1.32"/>
<circle cx="-10.3" cy="-29.9" r="4.4" fill="none" stroke="#4d4d4d" stroke-width="1.65"/>
<circle cx="-10.3" cy="-10" r="4.4" fill="none" stroke="#4d4d4d" stroke-width="1.65"/>
<circle cx="-10.3" cy="9.9" r="4.4" fill="none" stroke="#4d4d4d" stroke-width="1.65"/>
<circle cx="-10.3" cy="30.3" r="4.4" fill="none" stroke="#4d4d4d" stroke-width="1.65"/>
<circle cx="10.1" cy="-40" r="4.4" fill="none" stroke="#4d4d4d" stroke-width="1.65"/>
<circle cx="10.1" cy="-19.8" r="4.4" fill="none" stroke="#4d4d4d" stroke-width="1.65"/>
<circle cx="10.1" cy="0.1" r="4.4" fill="none" stroke="#4d4d4d" stroke-width="1.65"/>
<circle cx="10.1" cy="20.5" r="4.4" fill="none" stroke="#4d4d4d" stroke-width="1.65"/>
<circle cx="10.1" cy="40.4" r="4.4" fill="none" stroke="#4d4d4d" stroke-width="1.65"/>
</g>
<circle cx="1820.2" cy="1131.9" r="12.4" fill="none" stroke="#4d4d4d" stroke-width="1.65"/>
<circle cx="1820.2" cy="1131.9" r="9.3" fill="none" stroke="#4d4d4d" stroke-width="2.64"/>
<circle cx="1820.2" cy="1313.7" r="12.4" fill="none" stroke="#4d4d4d" stroke-width="1.65"/>
<circle cx="1820.2" cy="1313.7" r="9.3" fill="none" stroke="#4d4d4d" stroke-width="2.64"/>
<text x="1656" y="1365.2" font-size="17" font-weight="bold" text-anchor="start" fill="#1a1a1a" textLength="50.7" lengthAdjust="spacingAndGlyphs" >COM1</text>
<text x="1795.3" y="1365.2" font-size="17" font-weight="bold" text-anchor="start" fill="#1a1a1a" textLength="51.4" lengthAdjust="spacingAndGlyphs" >COM2</text>
<text x="1685.7" y="1393.8" font-size="16" font-weight="bold" text-anchor="start" fill="#1a1a1a" textLength="131" lengthAdjust="spacingAndGlyphs" >RS-232/422/485</text>
<path d="M1672.2,1375.8 V1384 Q1672.2,1386.4 1675,1386.4 H1680" fill="none" stroke="#1a1a1a" stroke-width="1.05" />
<path d="M1824.7,1386.4 H1829 Q1831.3,1386.4 1831.3,1384 V1375.8" fill="none" stroke="#1a1a1a" stroke-width="1.05" />
<rect x="1681.5" y="1407.5" width="130.7" height="36.3" rx="6.5" fill="none" stroke="#000" stroke-width="1.35"/>
<text x="1692.5" y="1436" font-size="23.5" font-weight="bold" text-anchor="start" fill="#000" textLength="113.4" lengthAdjust="spacingAndGlyphs" >DRP-A100</text>
<path d="M1693.6,1468.7 Q1696,1481.1 1706,1481.1 H1760 Q1770,1481.1 1772.1,1468.7" fill="none" stroke="#000" stroke-width="1.2" />
<path d="M1718,1468.7 Q1734,1473 1750,1468.7" fill="none" stroke="#000" stroke-width="0.9" />
<path d="M2801.4,424.6 H2716.4 Q2712.4,424.6 2712.4,428.6 V437.8 Q2712.4,441.8 2716.4,441.8 H2756 Q2767,441.8 2767,452.8 V479.95 Q2767,490.95 2756,490.95 H2716.4 Q2712.4,490.95 2712.4,494.95 V504.15 Q2712.4,508.15 2716.4,508.15 H2756 Q2767,508.15 2767,519.15 V546.3 Q2767,557.3 2756,557.3 H2716.4 Q2712.4,557.3 2712.4,561.3 V570.5 Q2712.4,574.5 2716.4,574.5 H2756 Q2767,574.5 2767,585.5 V612.65 Q2767,623.65 2756,623.65 H2716.4 Q2712.4,623.65 2712.4,627.65 V636.85 Q2712.4,640.85 2716.4,640.85 H2756 Q2767,640.85 2767,651.85 V679 Q2767,690 2756,690 H2716.4 Q2712.4,690 2712.4,694 V703.2 Q2712.4,707.2 2716.4,707.2 H2756 Q2767,707.2 2767,718.2 V745.35 Q2767,756.35 2756,756.35 H2716.4 Q2712.4,756.35 2712.4,760.35 V769.55 Q2712.4,773.55 2716.4,773.55 H2756 Q2767,773.55 2767,784.55 V811.7 Q2767,822.7 2756,822.7 H2716.4 Q2712.4,822.7 2712.4,826.7 V835.9 Q2712.4,839.9 2716.4,839.9 H2756 Q2767,839.9 2767,850.9 V878.05 Q2767,889.05 2756,889.05 H2716.4 Q2712.4,889.05 2712.4,893.05 V902.25 Q2712.4,906.25 2716.4,906.25 H2756 Q2767,906.25 2767,917.25 V944.4 Q2767,955.4 2756,955.4 H2716.4 Q2712.4,955.4 2712.4,959.4 V968.6 Q2712.4,972.6 2716.4,972.6 H2756 Q2767,972.6 2767,983.6 V1010.75 Q2767,1021.75 2756,1021.75 H2716.4 Q2712.4,1021.75 2712.4,1025.75 V1034.95 Q2712.4,1038.95 2716.4,1038.95 H2756 Q2767,1038.95 2767,1049.95 V1077.1 Q2767,1088.1 2756,1088.1 H2716.4 Q2712.4,1088.1 2712.4,1092.1 V1101.3 Q2712.4,1105.3 2716.4,1105.3 H2756 Q2767,1105.3 2767,1116.3 V1143.45 Q2767,1154.45 2756,1154.45 H2716.4 Q2712.4,1154.45 2712.4,1158.45 V1167.65 Q2712.4,1171.65 2716.4,1171.65 H2756 Q2767,1171.65 2767,1182.65 V1209.8 Q2767,1220.8 2756,1220.8 H2716.4 Q2712.4,1220.8 2712.4,1224.8 V1234 Q2712.4,1238 2716.4,1238 H2756 Q2767,1238 2767,1249 V1276.15 Q2767,1287.15 2756,1287.15 H2716.4 Q2712.4,1287.15 2712.4,1291.15 V1300.35 Q2712.4,1304.35 2716.4,1304.35 H2801.4" fill="none" stroke="#000" stroke-width="2.0" />
<line x1="2727" y1="429.6" x2="2727" y2="441.8" stroke="#000" stroke-width="1.6"/>
<line x1="2722" y1="424.6" x2="2727" y2="429.6" stroke="#000" stroke-width="1.5"/>
<line x1="2727" y1="429.6" x2="2801.4" y2="429.6" stroke="#000" stroke-width="1.6"/>
<line x1="2727" y1="490.95" x2="2727" y2="508.15" stroke="#000" stroke-width="1.6"/>
<line x1="2727" y1="557.3" x2="2727" y2="574.5" stroke="#000" stroke-width="1.6"/>
<line x1="2727" y1="623.65" x2="2727" y2="640.85" stroke="#000" stroke-width="1.6"/>
<line x1="2727" y1="690" x2="2727" y2="707.2" stroke="#000" stroke-width="1.6"/>
<line x1="2727" y1="756.35" x2="2727" y2="773.55" stroke="#000" stroke-width="1.6"/>
<line x1="2727" y1="822.7" x2="2727" y2="839.9" stroke="#000" stroke-width="1.6"/>
<line x1="2727" y1="889.05" x2="2727" y2="906.25" stroke="#000" stroke-width="1.6"/>
<line x1="2727" y1="955.4" x2="2727" y2="972.6" stroke="#000" stroke-width="1.6"/>
<line x1="2727" y1="1021.75" x2="2727" y2="1038.95" stroke="#000" stroke-width="1.6"/>
<line x1="2727" y1="1088.1" x2="2727" y2="1105.3" stroke="#000" stroke-width="1.6"/>
<line x1="2727" y1="1154.45" x2="2727" y2="1171.65" stroke="#000" stroke-width="1.6"/>
<line x1="2727" y1="1220.8" x2="2727" y2="1238" stroke="#000" stroke-width="1.6"/>
<line x1="2727" y1="1287.15" x2="2727" y2="1299.85" stroke="#000" stroke-width="1.6"/>
<line x1="2722" y1="1304.35" x2="2727" y2="1299.85" stroke="#000" stroke-width="1.5"/>
<line x1="2727" y1="1299.85" x2="2801.4" y2="1299.85" stroke="#000" stroke-width="1.6"/>
<line x1="2801.4" y1="424.2" x2="2801.4" y2="1304.2" stroke="#000" stroke-width="2.0"/>
<path d="M2801.4,424.6 H3110 Q3118.2,424.6 3119.5,432 V1304.2" fill="none" stroke="#000" stroke-width="2.0" />
<path d="M2801.4,434.5 H3110 Q3116,434.5 3116,441 V510 Q3116,517.4 3109,517.4" fill="none" stroke="#000" stroke-width="1.8" />
<line x1="2801.4" y1="518.2" x2="3119.5" y2="518.2" stroke="#000" stroke-width="3.0"/>
<path d="M2801.4,508 Q2802,516.5 2810,517.4" fill="none" stroke="#000" stroke-width="1.6" />
<circle cx="2869" cy="478" r="20.7" fill="none" stroke="#000" stroke-width="1.7"/>
<circle cx="2869" cy="478" r="17.39" fill="none" stroke="#000" stroke-width="1.7"/>
<path d="M2863.1,464.65 H2874.9 V472.1 H2882.35 V483.9 H2874.9 V491.35 H2863.1 V483.9 H2855.65 V472.1 H2863.1 Z" fill="none" stroke="#000" stroke-width="2.3" />
<rect x="2865.27" y="466.25" width="7.45" height="23.5" rx="0" fill="none" stroke="#000" stroke-width="1.5"/>
<rect x="2857.25" y="474.27" width="23.5" height="7.45" rx="0" fill="none" stroke="#000" stroke-width="1.5"/>
<circle cx="3038.3" cy="478" r="20.7" fill="none" stroke="#000" stroke-width="1.7"/>
<circle cx="3038.3" cy="478" r="17.39" fill="none" stroke="#000" stroke-width="1.7"/>
<path d="M3032.4,464.65 H3044.2 V472.1 H3051.65 V483.9 H3044.2 V491.35 H3032.4 V483.9 H3024.95 V472.1 H3032.4 Z" fill="none" stroke="#000" stroke-width="2.3" />
<rect x="3034.57" y="466.25" width="7.45" height="23.5" rx="0" fill="none" stroke="#000" stroke-width="1.5"/>
<rect x="3026.55" y="474.27" width="23.5" height="7.45" rx="0" fill="none" stroke="#000" stroke-width="1.5"/>
<path d="M2864.4,424.2 V397.5 Q2864.4,394.8 2867.4,394.8 H2923.5 Q2926.5,394.8 2926.5,397.5 V424.2" fill="none" stroke="#000" stroke-width="1.8" />
<line x1="2864.4" y1="398.5" x2="2926.5" y2="398.5" stroke="#000" stroke-width="1.3"/>
<rect x="2876.39" y="398.5" width="38.32" height="24.5" rx="0" fill="none" stroke="#000" stroke-width="1.6"/>
<line x1="2885.51" y1="398.5" x2="2885.51" y2="423" stroke="#000" stroke-width="1.5"/>
<line x1="2905.08" y1="398.5" x2="2905.08" y2="423" stroke="#000" stroke-width="1.5"/>
<path d="M2992.8,424.2 V397.5 Q2992.8,394.8 2995.8,394.8 H3052.3 Q3055.3,394.8 3055.3,397.5 V424.2" fill="none" stroke="#000" stroke-width="1.8" />
<line x1="2992.8" y1="398.5" x2="3055.3" y2="398.5" stroke="#000" stroke-width="1.3"/>
<rect x="3004.86" y="398.5" width="38.56" height="24.5" rx="0" fill="none" stroke="#000" stroke-width="1.6"/>
<line x1="3014.05" y1="398.5" x2="3014.05" y2="423" stroke="#000" stroke-width="1.5"/>
<line x1="3033.74" y1="398.5" x2="3033.74" y2="423" stroke="#000" stroke-width="1.5"/>
<path d="M3038.7,632.5 Q3040,638 3046,641 Q3052.8,645 3052.8,653 V760 Q3052.8,768 3046,771 Q3040,774 3038.7,779.5" fill="none" stroke="#000" stroke-width="1.8" />
<rect x="2970" y="528.8" width="69.4" height="356.5" rx="11" fill="none" stroke="#000" stroke-width="2.0"/>
<rect x="2972.8" y="531.6" width="63.8" height="350.9" rx="8.5" fill="none" stroke="#000" stroke-width="1.8"/>
<circle cx="3004.3" cy="553.8" r="20.7" fill="none" stroke="#000" stroke-width="1.7"/>
<circle cx="3004.3" cy="553.8" r="17.39" fill="none" stroke="#000" stroke-width="1.7"/>
<path d="M2998.4,540.45 H3010.2 V547.9 H3017.65 V559.7 H3010.2 V567.15 H2998.4 V559.7 H2990.95 V547.9 H2998.4 Z" fill="none" stroke="#000" stroke-width="2.3" />
<rect x="3000.57" y="542.05" width="7.45" height="23.5" rx="0" fill="none" stroke="#000" stroke-width="1.5"/>
<rect x="2992.55" y="550.07" width="23.5" height="7.45" rx="0" fill="none" stroke="#000" stroke-width="1.5"/>
<circle cx="3004.3" cy="858.2" r="20.7" fill="none" stroke="#000" stroke-width="1.7"/>
<circle cx="3004.3" cy="858.2" r="17.39" fill="none" stroke="#000" stroke-width="1.7"/>
<path d="M2998.4,844.85 H3010.2 V852.3 H3017.65 V864.1 H3010.2 V871.55 H2998.4 V864.1 H2990.95 V852.3 H2998.4 Z" fill="none" stroke="#000" stroke-width="2.3" />
<rect x="3000.57" y="846.45" width="7.45" height="23.5" rx="0" fill="none" stroke="#000" stroke-width="1.5"/>
<rect x="2992.55" y="854.47" width="23.5" height="7.45" rx="0" fill="none" stroke="#000" stroke-width="1.5"/>
<text x="0" y="0" font-size="17.5" font-weight="bold" fill="#231815" text-anchor="middle" textLength="119" lengthAdjust="spacingAndGlyphs" transform="translate(2960.8,717) rotate(-90)">RTC BATTERY</text>
<line x1="2801.4" y1="1299.1" x2="3119.5" y2="1299.1" stroke="#000" stroke-width="1.6"/>
<line x1="2801.4" y1="1304.2" x2="3119.5" y2="1304.2" stroke="#000" stroke-width="2.0"/>
<path d="M2789,1364.4 V1316.8 H3104.6 V1364.4 H3118.2 V1317 Q3118.2,1303.5 3104.6,1303.5" fill="none" stroke="#000" stroke-width="1.8" />
<path d="M2789,1364.4 H2775.4 V1317 Q2775.4,1303.5 2789,1303.5" fill="none" stroke="#000" stroke-width="1.8" />
<line x1="2775.4" y1="1326" x2="2789" y2="1326" stroke="#000" stroke-width="1.3"/>
<line x1="2775.4" y1="1329" x2="2789" y2="1329" stroke="#000" stroke-width="1.3"/>
<line x1="3104.6" y1="1326" x2="3118.2" y2="1326" stroke="#000" stroke-width="1.3"/>
<line x1="3104.6" y1="1329" x2="3118.2" y2="1329" stroke="#000" stroke-width="1.3"/>
<path d="M2880,1297.3 L2896,1280 Q2899,1276.6 2903,1276.6 H2991 Q2995,1276.6 2998,1280 L3013.5,1297.3" fill="none" stroke="#000" stroke-width="1.8" />
<path d="M2900.8,1297.3 V1281 Q2901,1277.5 2903,1277" fill="none" stroke="#000" stroke-width="1.4" />
<path d="M2994,1297.3 V1281 Q2994,1277.5 2992,1277" fill="none" stroke="#000" stroke-width="1.4" />
<rect x="2880" y="1303.5" width="133.5" height="13.3" rx="0" fill="none" stroke="#000" stroke-width="1.6"/>
<line x1="2893" y1="1303.5" x2="2893" y2="1316.8" stroke="#000" stroke-width="1.3"/>
<line x1="2897" y1="1303.5" x2="2897" y2="1316.8" stroke="#000" stroke-width="1.3"/>
<line x1="2916" y1="1303.5" x2="2916" y2="1316.8" stroke="#000" stroke-width="1.3"/>
<line x1="2976" y1="1303.5" x2="2976" y2="1316.8" stroke="#000" stroke-width="1.3"/>
<line x1="2991" y1="1303.5" x2="2991" y2="1316.8" stroke="#000" stroke-width="1.3"/>
<line x1="2996" y1="1303.5" x2="2996" y2="1316.8" stroke="#000" stroke-width="1.3"/>
<path d="M2855.3,1316.8 V1362 Q2855.3,1369.4 2862,1369.4 H3032 Q3038.7,1369.4 3038.7,1362 V1316.8" fill="none" stroke="#000" stroke-width="1.8" />
<line x1="2862" y1="1318" x2="2862" y2="1366" stroke="#000" stroke-width="1.3"/>
<line x1="3032" y1="1318" x2="3032" y2="1366" stroke="#000" stroke-width="1.3"/>
<line x1="2875.5" y1="1316.8" x2="2875.5" y2="1369.4" stroke="#000" stroke-width="1.6"/>
<line x1="2910" y1="1316.8" x2="2910" y2="1362" stroke="#000" stroke-width="1.6"/>
<line x1="2928" y1="1316.8" x2="2928" y2="1362" stroke="#000" stroke-width="1.6"/>
<line x1="2963" y1="1316.8" x2="2963" y2="1362" stroke="#000" stroke-width="1.6"/>
<line x1="2983" y1="1316.8" x2="2983" y2="1362" stroke="#000" stroke-width="1.6"/>
<line x1="3017.5" y1="1316.8" x2="3017.5" y2="1369.4" stroke="#000" stroke-width="1.6"/>
<line x1="2910" y1="1334" x2="2928" y2="1334" stroke="#000" stroke-width="1.4"/>
<line x1="2963" y1="1334" x2="2983" y2="1334" stroke="#000" stroke-width="1.4"/>
<path d="M2923,1369.4 V1340 H2926 V1376.8" fill="none" stroke="#000" stroke-width="1.3" />
<path d="M2969,1369.4 V1340 H2966 V1376.8" fill="none" stroke="#000" stroke-width="1.3" />
<line x1="2862" y1="1362" x2="3032" y2="1362" stroke="#000" stroke-width="1.3"/>
<rect x="2869" y="1369.4" width="47" height="7.4" rx="0" fill="none" stroke="#000" stroke-width="1.6"/>
<rect x="2923" y="1369.4" width="47" height="7.4" rx="0" fill="none" stroke="#000" stroke-width="1.6"/>
<rect x="2977" y="1369.4" width="47" height="7.4" rx="0" fill="none" stroke="#000" stroke-width="1.6"/>
<rect x="2840.8" y="1318.8" width="14.5" height="18.7" rx="0" fill="none" stroke="#000" stroke-width="1.6"/>
<rect x="3038.7" y="1318.8" width="14.1" height="18.7" rx="0" fill="none" stroke="#000" stroke-width="1.6"/>
<rect x="2849" y="1318.8" width="6.3" height="6.2" rx="0" fill="none" stroke="#000" stroke-width="1.2"/>
<rect x="3038.7" y="1318.8" width="6.3" height="6.2" rx="0" fill="none" stroke="#000" stroke-width="1.2"/>
<line x1="407.5" y1="288" x2="407.5" y2="755.5" stroke="#ec1c24" stroke-width="3"/>
<path d="M562.5,375 L454.4,376.2 V588.4" fill="none" stroke="#ec1c24" stroke-width="3" />
<circle cx="408" cy="755.5" r="11.8" fill="#ec1c24"/>
<circle cx="454.5" cy="588.4" r="11.8" fill="#ec1c24"/>
<line x1="550" y1="946.3" x2="706.8" y2="946.3" stroke="#ec1c24" stroke-width="3"/>
<circle cx="550" cy="946.3" r="11.8" fill="#ec1c24"/>
<line x1="530.5" y1="1102.5" x2="700.3" y2="1102.5" stroke="#ec1c24" stroke-width="3"/>
<circle cx="530.5" cy="1102.5" r="11.8" fill="#ec1c24"/>
<line x1="538" y1="1173.5" x2="694" y2="1173.5" stroke="#ec1c24" stroke-width="3"/>
<circle cx="538" cy="1173.3" r="11.8" fill="#ec1c24"/>
<line x1="1674.5" y1="206.3" x2="1674.5" y2="477.8" stroke="#ec1c24" stroke-width="3"/>
<rect x="1597.5" y="478.6" width="155.6" height="62.3" rx="0" fill="none" stroke="#ec1c24" stroke-width="3"/>
<circle cx="1674.7" cy="477.8" r="11.8" fill="#ec1c24"/>
<rect x="1609.9" y="553.8" width="237.1" height="136.7" rx="0" fill="none" stroke="#ec1c24" stroke-width="3"/>
<line x1="1849.5" y1="629.6" x2="1981.6" y2="629.6" stroke="#ec1c24" stroke-width="3"/>
<circle cx="1849.5" cy="629.6" r="11.8" fill="#ec1c24"/>
<line x1="1382" y1="820.2" x2="1658.6" y2="820.2" stroke="#ec1c24" stroke-width="3"/>
<circle cx="1658.6" cy="820.2" r="11.5" fill="#ec1c24"/>
<line x1="1828.6" y1="820" x2="1994" y2="820" stroke="#ec1c24" stroke-width="3"/>
<circle cx="1828.6" cy="820" r="11.5" fill="#ec1c24"/>
<rect x="1616" y="934.4" width="225.2" height="174.7" rx="0" fill="none" stroke="#ec1c24" stroke-width="3"/>
<line x1="1839.4" y1="1021.7" x2="2004.6" y2="1021.7" stroke="#ec1c24" stroke-width="3"/>
<circle cx="1839.4" cy="1021.9" r="11.8" fill="#ec1c24"/>
<rect x="1610.1" y="1116.6" width="267.4" height="285.5" rx="0" fill="none" stroke="#ec1c24" stroke-width="3"/>
<line x1="1882" y1="1258.8" x2="2000.5" y2="1258.8" stroke="#ec1c24" stroke-width="3"/>
<circle cx="1882.5" cy="1259" r="11.8" fill="#ec1c24"/>
<line x1="3008.5" y1="206.8" x2="3008.5" y2="700.8" stroke="#ec1c24" stroke-width="3"/>
<circle cx="3008.5" cy="700.8" r="11.6" fill="#ec1c24"/>
<text x="302.4" y="194.4" font-size="46" font-weight="normal" text-anchor="start" fill="#000" textLength="257.61" lengthAdjust="spacingAndGlyphs" class="lbl">Power Input</text>
<text x="160.2" y="249.8" font-size="46" font-weight="normal" text-anchor="start" fill="#000" textLength="578.82" lengthAdjust="spacingAndGlyphs" class="lbl">(12/24 VDC, terminal block)</text>
<text x="590" y="390" font-size="46" font-weight="normal" text-anchor="start" fill="#000" textLength="302.01" lengthAdjust="spacingAndGlyphs" class="lbl">Ground Screw</text>
<text x="714.2" y="940" font-size="46" font-weight="normal" text-anchor="start" fill="#000" textLength="384.41" lengthAdjust="spacingAndGlyphs" class="lbl">SD/CFast Storage</text>
<text x="779" y="995.5" font-size="46" font-weight="normal" text-anchor="start" fill="#000" textLength="223.41" lengthAdjust="spacingAndGlyphs" class="lbl">Slot Cover</text>
<text x="714.8" y="1116" font-size="46" font-weight="normal" text-anchor="start" fill="#000" textLength="277.8" lengthAdjust="spacingAndGlyphs" class="lbl">Reset Button</text>
<text x="714.8" y="1191.3" font-size="46" font-weight="normal" text-anchor="start" fill="#000" textLength="291.2" lengthAdjust="spacingAndGlyphs" class="lbl">Power Button</text>
<text x="1569.5" y="131.25" font-size="46" font-weight="normal" text-anchor="start" fill="#000" textLength="189" lengthAdjust="spacingAndGlyphs" class="lbl">LEDs x 2</text>
<text x="1504" y="186.25" font-size="46" font-weight="normal" text-anchor="start" fill="#000" textLength="339.02" lengthAdjust="spacingAndGlyphs" class="lbl">(power, storage)</text>
<text x="1146.8" y="816.2" font-size="46" font-weight="normal" text-anchor="start" fill="#000" textLength="122" lengthAdjust="spacingAndGlyphs" class="lbl">HDMI</text>
<text x="1003" y="873" font-size="46" font-weight="normal" text-anchor="start" fill="#000" textLength="405.41" lengthAdjust="spacingAndGlyphs" class="lbl">(3840x2160@60Hz)</text>
<text x="2058.8" y="637" font-size="46" font-weight="normal" text-anchor="start" fill="#000" textLength="294.19" lengthAdjust="spacingAndGlyphs" class="lbl">LAN Ports x 2</text>
<text x="1941.6" y="693.6" font-size="46" font-weight="normal" text-anchor="start" fill="#000" textLength="560.42" lengthAdjust="spacingAndGlyphs" class="lbl">(10/100/1000 Mbps, RJ45)</text>
<text x="2117" y="816.1" font-size="46" font-weight="normal" text-anchor="start" fill="#000" textLength="95.8" lengthAdjust="spacingAndGlyphs" class="lbl">VGA</text>
<text x="1958.4" y="872.2" font-size="46" font-weight="normal" text-anchor="start" fill="#000" textLength="405.59" lengthAdjust="spacingAndGlyphs" class="lbl">(1920x1200@60Hz)</text>
<text x="2002.8" y="1002.8" font-size="46" font-weight="normal" text-anchor="start" fill="#000" textLength="311.22" lengthAdjust="spacingAndGlyphs" class="lbl">USB Hosts x 3</text>
<text x="2041.6" y="1058.9" font-size="46" font-weight="normal" text-anchor="start" fill="#000" textLength="255" lengthAdjust="spacingAndGlyphs" class="lbl">(3.0, type A)</text>
<text x="2036" y="1269.5" font-size="46" font-weight="normal" text-anchor="start" fill="#000" textLength="319" lengthAdjust="spacingAndGlyphs" class="lbl">Serial Ports x 2</text>
<text x="1956.8" y="1325.5" font-size="46" font-weight="normal" text-anchor="start" fill="#000" textLength="491.42" lengthAdjust="spacingAndGlyphs" class="lbl">(RS-232/422/485, DB9)</text>
<text x="2813.4" y="178.7" font-size="46" font-weight="normal" text-anchor="start" fill="#000" textLength="396.6" lengthAdjust="spacingAndGlyphs" class="lbl">RTC Battery Cover</text>
</svg>
</body></html>
